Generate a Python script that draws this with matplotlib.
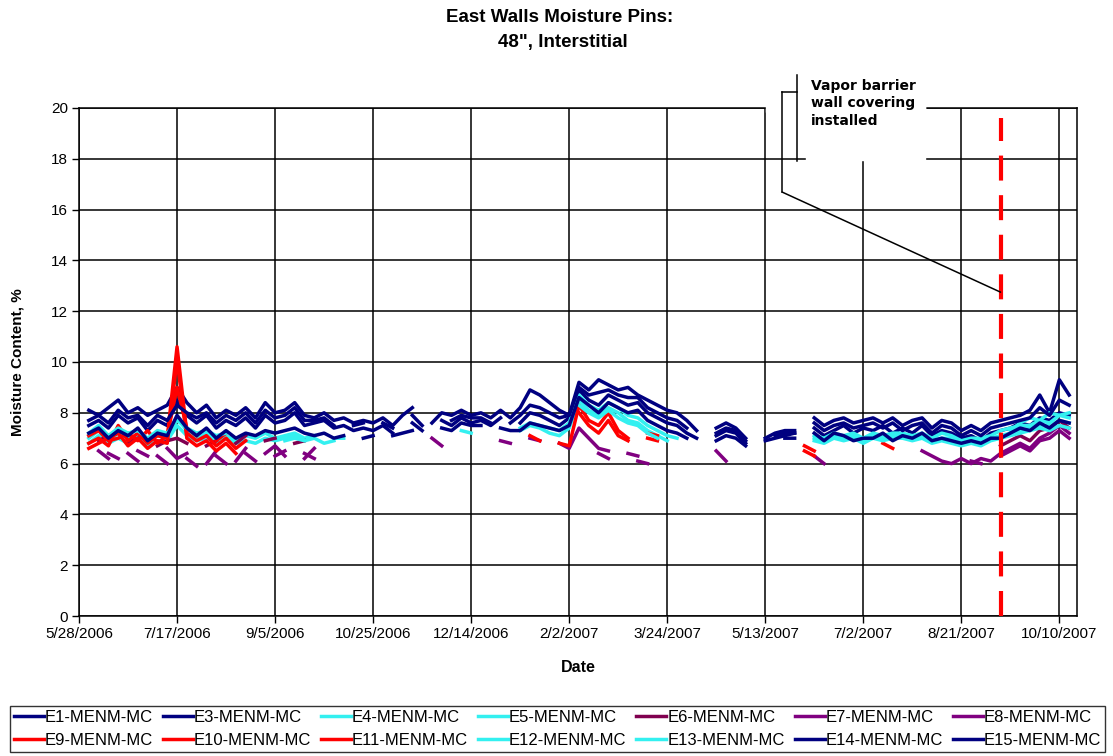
import numpy as np
import pandas as pd
import matplotlib
matplotlib.use("Agg")
import matplotlib.pyplot as plt
from matplotlib.patches import Rectangle
from matplotlib.lines import Line2D

plt.rcParams['font.family'] = ['Liberation Sans', 'DejaVu Sans']

nan = np.nan

# readings every 5 days, starting 6/2/2006
dates = pd.date_range("2006-06-02", periods=101, freq="5D")
tick_dates = pd.date_range("2006-05-28", periods=11, freq="50D")
tick_labels = ["5/28/2006", "7/17/2006", "9/5/2006", "10/25/2006", "12/14/2006",
               "2/2/2007", "3/24/2007", "5/13/2007", "7/2/2007", "8/21/2007", "10/10/2007"]
y_ticks = [0, 2, 4, 6, 8, 10, 12, 14, 16, 18, 20]
barrier_date = pd.Timestamp("2007-09-10")

e1 = [8.1, 7.9, 8.2, 8.5, 8.0, 8.2, 7.9, 8.1, 8.3, 9.0,
      8.4, 8.0, 8.3, 7.8, 8.1, 7.9, 8.2, 7.8, 8.4, 8.0,
      8.1, 8.4, 7.9, 7.8, 8.0, 7.7, 7.8, 7.6, 7.7, 7.6,
      7.8, 7.5, 7.9, 8.2, nan, 7.6, 8.0, 7.9, 8.1, 7.9,
      8.0, 7.8, 8.1, 7.8, 8.2, 8.9, 8.7, 8.4, 8.1, 7.9,
      9.2, 8.9, 9.3, 9.1, 8.9, 9.0, 8.7, 8.5, 8.3, 8.1,
      8.0, 7.7, 7.3, nan, 7.4, 7.6, 7.4, 7.0, nan, 7.0,
      7.2, 7.3, 7.3, nan, 7.8, 7.5, 7.7, 7.8, 7.6, 7.7,
      7.8, 7.6, 7.8, 7.5, 7.7, 7.8, 7.4, 7.7, 7.6, 7.3,
      7.5, 7.3, 7.6, 7.7, 7.8, 7.9, 8.1, 8.7, 8.0, 9.3, 8.7]
e3 = [7.5, 7.7, 7.4, 7.9, 7.6, 7.8, 7.3, 7.7, 7.5, 8.5,
      7.9, 7.6, 7.9, 7.4, 7.7, 7.5, 7.8, 7.4, 7.9, 7.6,
      7.7, 8.0, 7.5, 7.6, 7.7, 7.4, 7.5, 7.3, 7.4, 7.3,
      7.5, 7.2, nan, 7.6, 7.3, nan, 7.7, 7.5, 7.8, 7.6,
      7.7, 7.5, 7.8, nan, 7.6, 8.0, 7.9, 7.7, 7.5, 7.8,
      8.9, 8.5, 8.3, 8.7, 8.5, 8.3, 8.4, 8.0, 7.8, 7.6,
      7.5, 7.2, 7.0, nan, 7.1, 7.3, 7.2, 6.8, nan, 6.9,
      7.0, 7.1, 7.2, nan, 7.4, 7.1, 7.3, 7.5, 7.2, 7.4,
      7.3, 7.5, 7.2, 7.4, 7.2, 7.5, 7.1, 7.3, 7.2, 7.0,
      7.1, 6.9, 7.2, 7.3, 7.4, 7.6, 7.5, 7.8, 7.7, 8.0, 7.9]
e4 = [7.0, 7.3, 6.9, 7.2, 7.0, 7.1, 6.9, 7.1, 7.0, 7.8,
      7.3, 7.0, 7.2, 6.9, 7.1, 6.9, 7.1, 7.0, 7.2, 7.0,
      7.1, 7.2, 7.0, 7.1, nan, 7.0, 7.0, nan, nan, nan,
      nan, nan, nan, nan, nan, nan, nan, nan, 7.3, 7.2,
      nan, nan, nan, nan, 7.4, 7.6, 7.5, 7.4, 7.3, 7.6,
      8.7, 8.3, 8.1, 8.4, 8.2, 7.9, 7.8, 7.5, 7.3, 7.1,
      7.0, nan, nan, nan, nan, nan, nan, nan, nan, nan,
      nan, nan, nan, nan, 7.1, 7.0, 7.2, 7.1, 7.2, 7.0,
      7.2, 7.1, 7.2, 7.2, 7.1, 7.2, 7.0, 7.2, 7.1, 6.9,
      7.0, 7.0, 7.1, 7.3, 7.4, 7.5, 7.5, 7.7, 7.6, 7.9, 7.8]
e5 = [6.8, 7.1, 6.8, 7.0, 6.8, 7.0, 6.7, 6.9, 6.9, 7.5,
      7.1, 6.9, 7.0, 6.8, 7.0, 6.8, 6.9, 6.8, 7.0, 6.9,
      7.0, 7.1, 6.9, nan, nan, nan, nan, nan, nan, nan,
      nan, nan, nan, nan, nan, nan, nan, nan, nan, nan,
      nan, nan, nan, nan, 7.3, 7.5, 7.4, 7.2, 7.1, 7.4,
      8.5, 8.1, 7.9, 8.2, 8.0, 7.7, 7.6, 7.3, 7.1, 6.9,
      nan, nan, nan, nan, nan, nan, nan, nan, nan, nan,
      nan, nan, nan, nan, 7.0, 6.9, 7.1, 7.0, 7.1, 6.9,
      7.1, 7.0, 7.1, 7.1, 7.0, 7.1, 6.9, 7.0, 7.0, 6.8,
      6.9, 6.9, 7.0, 7.1, 7.2, 7.3, 7.4, 7.5, 7.5, 7.7, 7.6]
e6 = [nan, 6.9, 7.1, nan, 6.8, 7.0, nan, 6.7, 6.9, 7.0,
      6.8, nan, 6.7, 6.9, nan, 6.8, 7.1, nan, 6.9, 7.0,
      nan, 6.8, 6.9, nan, nan, nan, nan, nan, nan, nan,
      nan, nan, nan, nan, nan, nan, nan, nan, nan, nan,
      nan, nan, nan, nan, nan, nan, nan, nan, nan, nan,
      nan, nan, nan, nan, nan, nan, nan, nan, nan, nan,
      nan, nan, nan, nan, nan, nan, nan, nan, nan, nan,
      nan, nan, nan, nan, nan, nan, nan, nan, nan, nan,
      nan, nan, nan, nan, nan, nan, nan, nan, nan, nan,
      nan, nan, nan, 6.7, 6.9, 7.1, 6.9, 7.3, 7.4, 7.7, 7.4]
e7 = [nan, nan, 6.4, 6.2, nan, 6.5, 6.3, nan, 6.6, 6.2,
      6.4, nan, 6.0, 6.5, nan, 6.1, 6.6, nan, 6.4, 6.7,
      6.3, nan, 6.2, 6.6, nan, nan, nan, nan, nan, nan,
      nan, nan, nan, nan, nan, 7.0, 6.7, nan, nan, nan,
      nan, nan, 6.9, 6.8, nan, 7.0, 6.9, nan, 6.8, 6.6,
      7.4, 7.0, 6.6, 6.5, nan, 6.4, 6.3, nan, nan, nan,
      nan, nan, nan, nan, 6.5, 6.1, nan, nan, nan, nan,
      nan, nan, nan, nan, nan, nan, nan, nan, nan, nan,
      nan, nan, nan, nan, nan, 6.5, 6.3, 6.1, 6.0, 6.2,
      6.0, 6.2, 6.1, 6.4, 6.6, 6.8, 6.6, 7.0, 7.2, 7.5, 7.2]
e8 = [nan, 6.5, 6.2, nan, 6.4, 6.1, nan, 6.3, 6.0, nan,
      6.2, 5.9, nan, 6.3, 6.0, nan, 6.4, 6.1, nan, 6.3,
      6.5, nan, 6.4, 6.2, nan, nan, nan, nan, nan, nan,
      nan, nan, nan, nan, nan, nan, nan, nan, nan, nan,
      nan, nan, nan, nan, nan, nan, nan, nan, nan, nan,
      nan, nan, 6.4, 6.2, nan, nan, 6.1, 6.0, nan, nan,
      nan, nan, nan, nan, nan, nan, nan, nan, nan, nan,
      nan, nan, nan, nan, 6.3, 6.0, nan, nan, nan, nan,
      nan, nan, nan, nan, nan, nan, nan, nan, nan, nan,
      6.1, 6.0, nan, 6.3, 6.5, 6.7, 6.5, 6.9, 7.0, 7.3, 7.0]
e9 = [6.6, 6.8, 7.0, 7.2, 6.7, 7.0, 6.6, 6.9, 6.8, 10.1,
      7.0, 6.7, 6.9, 6.5, 6.8, 6.4, nan, nan, nan, nan,
      nan, nan, nan, nan, nan, nan, nan, nan, nan, nan,
      nan, nan, nan, nan, nan, nan, nan, nan, nan, nan,
      nan, nan, nan, 7.2, nan, 7.1, 6.9, nan, nan, nan,
      8.0, 7.5, 7.2, 7.7, 7.1, 6.9, nan, 7.0, 6.9, nan,
      nan, nan, nan, nan, nan, nan, nan, nan, nan, nan,
      nan, nan, nan, 6.5, 6.3, nan, nan, nan, nan, nan,
      nan, 6.8, 6.6, nan, nan, nan, nan, nan, nan, nan,
      nan, nan, nan, nan, nan, nan, nan, nan, nan, nan, nan]
e10 = [6.8, 7.0, 6.7, 7.5, 6.9, 7.2, 6.8, 7.1, 7.0, 10.6,
       7.2, 6.9, 7.1, 6.7, 7.0, 6.6, 6.9, nan, nan, nan,
       nan, nan, nan, nan, nan, nan, nan, nan, nan, nan,
       nan, nan, nan, nan, nan, nan, nan, nan, nan, nan,
       nan, nan, nan, nan, nan, nan, nan, nan, 6.8, 6.7,
       8.3, 7.7, 7.5, 8.0, 7.3, 7.0, nan, 7.2, 7.1, nan,
       nan, nan, nan, nan, nan, nan, nan, nan, nan, nan,
       nan, nan, nan, 6.7, 6.5, nan, nan, nan, nan, nan,
       nan, nan, nan, nan, nan, nan, nan, nan, nan, nan,
       nan, nan, nan, nan, nan, nan, nan, nan, nan, nan, nan]
e11 = [7.1, 7.3, 6.9, 7.0, 7.2, 6.9, 7.3, 6.8, 7.1, 9.0,
       7.4, 7.1, nan, 6.9, 7.2, nan, nan, nan, nan, nan,
       nan, nan, nan, nan, nan, nan, nan, nan, nan, nan,
       nan, nan, nan, nan, nan, nan, nan, nan, nan, nan,
       nan, nan, nan, nan, nan, nan, nan, nan, nan, nan,
       nan, nan, nan, nan, nan, nan, nan, nan, nan, nan,
       nan, nan, nan, nan, nan, nan, nan, nan, nan, nan,
       nan, nan, nan, nan, nan, nan, nan, nan, nan, nan,
       nan, nan, nan, nan, nan, nan, nan, nan, nan, nan,
       nan, nan, nan, nan, nan, nan, nan, nan, nan, nan, nan]
e12 = [7.2, 7.5, 7.1, 7.4, 7.2, 7.3, 7.0, 7.3, 7.2, 7.7,
       7.4, 7.2, 7.3, 7.1, 7.2, nan, nan, nan, nan, nan,
       nan, nan, nan, nan, nan, nan, nan, nan, nan, nan,
       nan, nan, nan, nan, nan, nan, nan, nan, nan, nan,
       nan, nan, nan, nan, nan, nan, nan, nan, nan, nan,
       8.3, 8.0, 7.8, 8.1, 7.8, 7.6, 7.5, 7.2, 7.0, nan,
       nan, nan, nan, nan, nan, nan, nan, nan, nan, nan,
       nan, nan, nan, nan, nan, nan, nan, nan, nan, nan,
       nan, nan, nan, nan, nan, nan, nan, nan, nan, nan,
       nan, nan, nan, nan, 7.3, 7.6, 7.8, 7.7, 8.0, 7.9, 8.0]
e13 = [nan, nan, nan, nan, nan, nan, nan, nan, nan, nan,
       nan, nan, nan, nan, nan, nan, nan, nan, nan, nan,
       6.9, 7.0, 6.9, 7.0, 6.8, 6.9, nan, nan, nan, nan,
       nan, nan, nan, nan, nan, nan, nan, nan, nan, nan,
       nan, nan, nan, nan, nan, nan, nan, nan, nan, nan,
       nan, nan, nan, nan, nan, nan, nan, nan, nan, nan,
       nan, nan, nan, nan, nan, nan, nan, nan, nan, nan,
       nan, nan, nan, nan, 6.9, 6.8, 7.0, 6.9, 7.0, 6.8,
       7.0, 6.9, 7.0, 7.0, 6.9, 7.0, 6.8, 6.9, 6.8, 6.7,
       6.8, 6.7, 6.9, 7.0, 7.1, 7.2, 7.3, 7.4, 7.3, 7.5, 7.4]
e14 = [7.2, 7.4, 7.0, 7.3, 7.1, 7.4, 6.9, 7.2, 7.1, 7.9,
       7.4, 7.1, 7.4, 7.0, 7.3, 7.0, 7.2, 7.1, 7.3, 7.2,
       7.3, 7.4, 7.2, 7.1, 7.2, 7.0, 7.1, nan, 7.0, 7.1,
       nan, 7.1, 7.2, 7.3, nan, nan, 7.4, 7.3, 7.6, 7.5,
       7.5, nan, 7.4, 7.3, 7.3, 7.6, 7.5, 7.4, 7.3, 7.5,
       8.6, 8.3, 8.0, 8.4, 8.2, 8.0, 8.1, 7.7, 7.5, 7.3,
       7.2, 7.0, nan, nan, 6.9, 7.1, 7.0, 6.7, nan, nan,
       nan, 7.0, 7.0, nan, 7.2, 6.9, 7.2, 7.1, 6.9, 7.0,
       7.0, 7.2, 6.9, 7.1, 7.0, 7.2, 6.9, 7.0, 6.9, 6.8,
       6.9, 6.8, 7.0, 7.0, 7.2, 7.4, 7.3, 7.6, 7.4, 7.7, 7.6]
e15 = [7.7, 7.9, 7.6, 8.1, 7.8, 7.9, 7.5, 7.9, 7.7, 8.3,
       8.0, 7.8, 8.0, 7.6, 7.9, 7.7, 8.0, 7.6, 8.1, 7.8,
       7.9, 8.2, 7.7, 7.7, 7.8, 7.5, nan, 7.5, 7.6, nan,
       7.6, 7.4, nan, 7.9, 7.5, nan, nan, 7.7, 7.9, 7.8,
       7.8, 7.6, nan, 7.6, 7.9, 8.3, 8.2, 8.0, 7.8, 7.9,
       9.0, 8.7, 8.8, 8.9, 8.7, 8.6, 8.6, 8.2, 8.0, 7.8,
       7.7, 7.4, nan, nan, 7.2, 7.4, 7.3, 6.9, nan, nan,
       7.1, 7.2, 7.2, nan, 7.6, 7.3, 7.5, 7.6, 7.4, 7.5,
       7.6, 7.4, 7.6, 7.3, 7.5, 7.6, 7.2, 7.5, 7.4, 7.1,
       7.3, 7.1, 7.4, 7.5, 7.6, 7.7, 7.8, 8.2, 7.9, 8.5, 8.3]

NAVY = '#000080'
CYAN = '#33F0F0'
RED = '#FF0000'
PURPLE = '#800080'
MAROON = '#800050'

series = [
    ("E1-MENM-MC", e1, NAVY), ("E3-MENM-MC", e3, NAVY),
    ("E4-MENM-MC", e4, CYAN), ("E5-MENM-MC", e5, CYAN),
    ("E6-MENM-MC", e6, MAROON), ("E7-MENM-MC", e7, PURPLE),
    ("E8-MENM-MC", e8, PURPLE), ("E9-MENM-MC", e9, RED),
    ("E10-MENM-MC", e10, RED), ("E11-MENM-MC", e11, RED),
    ("E12-MENM-MC", e12, CYAN), ("E13-MENM-MC", e13, CYAN),
    ("E14-MENM-MC", e14, NAVY), ("E15-MENM-MC", e15, NAVY),
]

W, H = 1113, 756


def fx(px):
    return px / W


def fy(py):
    return 1 - py / H


fig = plt.figure(figsize=(W / 100, H / 100), dpi=100)
ax = fig.add_axes([fx(79), fy(616), fx(1077) - fx(79), fy(108) - fy(616)])

handles = []
for label, vals, color in series:
    line, = ax.plot(dates, vals, color=color, lw=2.5, label=label)
    handles.append(line)

# vapor barrier install date
ax.plot([barrier_date, barrier_date], [0, 19.6], color=RED, lw=3,
        dashes=(6, 3.5), zorder=5)

ax.set_xlim(pd.Timestamp("2006-05-28"), pd.Timestamp("2007-10-19"))
ax.set_ylim(0, 20)
ax.set_xticks(tick_dates)
ax.set_xticklabels(tick_labels)
ax.set_yticks(y_ticks)
ax.grid(True, color='black', lw=1.1)
ax.set_axisbelow(True)
ax.tick_params(direction='out', length=5, width=1, labelsize=11, pad=3)
for sp in ax.spines.values():
    sp.set_color('black')
    sp.set_linewidth(1.1)

fig.text(fx(560), fy(17), "East Walls Moisture Pins:", ha='center', va='center',
         fontsize=13.5, fontweight='bold')
fig.text(fx(563), fy(43), "48\", Interstitial", ha='center', va='center',
         fontsize=13.5, fontweight='bold')
fig.text(fx(578), fy(668), "Date", ha='center', va='center', fontsize=11.5,
         fontweight='bold')
fig.text(fx(18), fy(362), "Moisture Content, %", ha='center', va='center',
         rotation=90, fontsize=11, fontweight='bold')

# callout box for annotation
fig.add_artist(Rectangle((fx(766), fy(112)), fx(925) - fx(766), fy(62) - fy(112),
                         transform=fig.transFigure, color='white', zorder=3))
fig.add_artist(Rectangle((fx(806), fy(160)), fx(925) - fx(806), fy(62) - fy(160),
                         transform=fig.transFigure, color='white', zorder=3))
fig.text(fx(811), fy(79), "Vapor barrier\nwall covering\ninstalled", ha='left', va='top',
         fontsize=10, fontweight='bold', family='DejaVu Sans', linespacing=1.3, zorder=6)
fig.add_artist(Line2D([fx(797), fx(797)], [fy(75), fy(161)], color='black', lw=1.1,
                      transform=fig.transFigure, zorder=6))
fig.add_artist(Line2D([fx(782), fx(797)], [fy(92), fy(92)], color='black', lw=1.1,
                      transform=fig.transFigure, zorder=6))
fig.add_artist(Line2D([fx(782), fx(782)], [fy(92), fy(192)], color='black', lw=1.1,
                      transform=fig.transFigure, zorder=6))
ax.annotate('', xy=(barrier_date, 12.75), xycoords='data',
            xytext=(fx(782), fy(192)), textcoords='figure fraction',
            arrowprops=dict(arrowstyle='-', lw=1.1, color='black',
                            shrinkA=0, shrinkB=0), zorder=6)

# legend fills column-first, so interleave the two rows
order = [0, 7, 1, 8, 2, 9, 3, 10, 4, 11, 5, 12, 6, 13]
leg = fig.legend([handles[i] for i in order], [series[i][0] for i in order],
                 ncol=7, loc='lower left', mode='expand',
                 bbox_to_anchor=(fx(10), fy(752), fx(1105) - fx(10), fy(703) - fy(752)),
                 frameon=True, fancybox=False, edgecolor='black', fontsize=12,
                 handlelength=1.8, handletextpad=0.05, borderaxespad=0.0,
                 columnspacing=0.3, labelspacing=0.45, borderpad=0.25)
leg.get_frame().set_linewidth(1.0)

fig.savefig("out.png", dpi=100)
